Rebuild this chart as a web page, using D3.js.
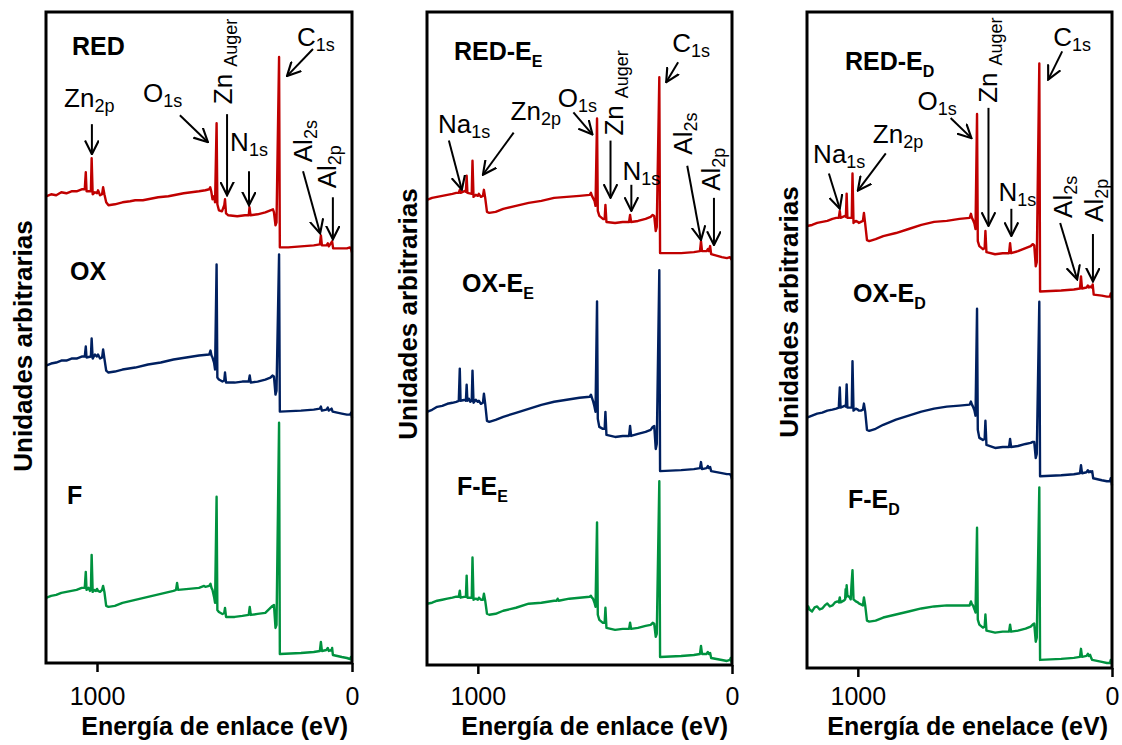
<!DOCTYPE html>
<html>
<head>
<meta charset="utf-8">
<script src="https://cdn.jsdelivr.net/npm/d3@7"></script>
<style>
  body { margin: 0; background: #fff; }
  svg { display: block; }
  text { font-family: "Liberation Sans", Arial, sans-serif; fill: #000; }
</style>
</head>
<body>
<div id="chart"></div>
<script>
// XPS survey spectra: [binding energy (eV), counts (a.u.)]
var redA = [[1200,466],[1180,468],[1160,467],[1140,470],[1120,469],[1100,471],[1080,471],[1060,473],[1048,473],[1044,490],[1041,471],[1024,471],[1021,504],[1017,468],[1008,470],[1000,469],[996,472],[988,467],[980,468],[976,475],[971,468],[964,460],[955,457],[930,458],[900,460],[870,461],[850,462],[820,462],[800,463],[760,465],[720,466],[700,467],[660,469],[630,470],[600,471],[575,472],[560,473],[556,475],[552,471],[547,463],[541,466],[537,460],[531,539],[528,458],[522,452],[510,451],[501,457],[498,463],[494,449],[485,447],[450,446],[420,447],[405,447],[402,455],[398,447],[370,448],[340,450],[320,452],[310,453],[306,450],[300,437],[296,440],[286,605],[283,415],[250,415],[200,416],[150,417],[126,418],[122,427],[118,417],[100,417],[95,419],[91,416],[78,421],[74,414],[40,414],[20,414],[8,415],[3,413],[0,410]];
var oxA = [[1200,297],[1180,299],[1160,300],[1140,302],[1120,302],[1100,304],[1080,304],[1060,306],[1048,306],[1044,316],[1041,305],[1024,306],[1021,324],[1017,304],[1008,308],[1000,306],[996,308],[988,304],[980,305],[976,313],[971,304],[964,292],[955,290],[930,291],[900,293],[850,295],[800,298],[750,300],[700,303],[650,305],[600,307],[560,308],[555,312],[551,307],[547,305],[541,300],[537,293],[531,398],[528,285],[522,283],[508,281],[501,282],[498,290],[494,280],[460,280],[430,281],[405,281],[401,287],[397,280],[370,281],[340,283],[320,285],[312,287],[306,286],[300,268],[296,272],[286,408],[283,251],[200,252],[150,253],[126,254],[122,256],[118,252],[100,253],[95,255],[91,252],[80,254],[76,251],[40,249],[20,248],[8,248],[3,250],[0,245]];
var fA = [[1200,65],[1180,67],[1160,68],[1140,70],[1120,71],[1100,72],[1080,73],[1060,75],[1048,75],[1044,91],[1041,73],[1033,75],[1028,72],[1024,73],[1021,108],[1017,71],[1010,73],[1004,72],[1000,74],[996,72],[988,71],[980,73],[976,77],[971,71],[964,57],[955,56],[930,57],[900,60],[850,63],[800,66],[750,69],[700,72],[690,73],[686,80],[682,73],[640,74],[600,75],[580,77],[575,76],[560,77],[555,79],[551,75],[547,73],[541,66],[537,60],[531,166],[528,53],[522,51],[508,49],[501,50],[498,55],[494,46],[460,46],[430,47],[405,48],[401,56],[397,48],[370,49],[340,50],[320,55],[312,57],[306,58],[300,35],[296,38],[286,240],[283,9],[200,10],[150,11],[126,12],[122,21],[118,12],[100,13],[95,15],[91,12],[80,13],[78,15],[75,8],[40,6],[20,5],[8,4],[4,6],[2,5],[0,2]];

var redB = [[1200,463],[1180,465],[1160,466],[1140,467],[1120,468],[1100,469],[1085,470],[1075,470],[1071,473],[1068,470],[1050,472],[1047,471],[1044,487],[1041,470],[1024,469],[1021,502],[1017,466],[1008,468],[1000,467],[996,469],[988,466],[980,467],[976,473],[971,465],[964,451],[955,450],[930,451],[900,454],[850,457],[800,460],[750,462],[700,465],[650,466],[600,467],[560,468],[555,470],[551,467],[547,465],[541,462],[537,457],[531,544],[528,452],[522,447],[508,444],[501,444],[498,458],[494,441],[460,440],[430,441],[405,441],[401,448],[397,441],[370,442],[340,444],[320,446],[312,448],[306,447],[300,432],[296,436],[286,585],[283,410],[200,410],[150,411],[126,412],[122,422],[118,412],[100,412],[95,414],[91,412],[86,417],[82,409],[40,406],[20,405],[8,406],[3,404],[0,403]];
var oxB = [[1200,252],[1180,254],[1160,257],[1140,258],[1120,260],[1100,261],[1085,262],[1075,263],[1071,295],[1068,263],[1050,264],[1047,263],[1044,279],[1041,263],[1035,265],[1030,262],[1024,263],[1021,293],[1017,261],[1008,264],[1000,262],[996,263],[988,260],[980,261],[976,270],[971,260],[964,243],[955,242],[930,244],[900,247],[850,251],[800,255],[750,259],[700,262],[650,264],[600,266],[560,267],[555,269],[551,266],[547,263],[541,257],[537,252],[531,362],[528,245],[522,237],[508,235],[501,235],[498,252],[494,229],[460,227],[430,228],[405,228],[401,238],[397,228],[370,230],[340,232],[320,234],[312,237],[306,238],[300,215],[296,220],[286,393],[283,193],[200,194],[150,195],[126,196],[122,202],[118,195],[100,196],[95,198],[91,196],[86,197],[82,193],[40,191],[20,190],[8,190],[3,188],[0,185]];
var fB = [[1200,61],[1180,62],[1160,64],[1140,65],[1120,66],[1100,67],[1085,68],[1075,68],[1071,74],[1068,67],[1050,68],[1047,68],[1044,89],[1041,67],[1024,67],[1021,107],[1017,65],[1008,66],[1000,65],[996,67],[988,65],[980,65],[976,71],[971,64],[964,51],[955,50],[930,51],[900,54],[850,57],[800,61],[750,62],[700,64],[690,64],[686,66],[682,64],[640,66],[600,67],[560,68],[555,69],[551,67],[547,66],[541,62],[537,58],[531,142],[528,50],[522,45],[508,42],[501,42],[498,57],[494,37],[460,35],[430,36],[405,36],[401,42],[397,36],[370,37],[340,39],[320,40],[312,42],[306,41],[300,28],[296,31],[286,183],[283,8],[200,9],[150,10],[126,11],[122,19],[118,11],[100,11],[95,13],[91,11],[86,12],[82,7],[40,5],[20,4],[8,5],[5,7],[2,3],[0,2]];

var redC = [[1200,438],[1180,439],[1160,441],[1140,442],[1120,443],[1100,445],[1085,446],[1075,446],[1071,453],[1068,446],[1050,448],[1047,447],[1044,470],[1041,446],[1024,446],[1021,490],[1017,441],[1008,443],[1000,442],[996,441],[988,442],[980,443],[976,451],[971,440],[964,424],[955,423],[930,425],[900,428],[850,431],[800,435],[750,439],[700,442],[650,443],[600,445],[560,446],[555,450],[551,446],[547,444],[541,440],[537,435],[531,549],[528,423],[522,418],[508,415],[501,416],[498,433],[494,412],[460,410],[430,411],[405,411],[401,421],[397,411],[370,413],[340,416],[320,418],[312,420],[306,419],[300,398],[296,402],[286,599],[283,373],[200,374],[150,375],[126,376],[122,388],[118,376],[100,377],[95,379],[91,377],[86,378],[80,377],[76,380],[72,370],[40,369],[20,368],[8,368],[5,371],[2,368],[0,365]];
var oxC = [[1200,248],[1180,250],[1160,252],[1140,253],[1120,255],[1100,256],[1085,257],[1075,258],[1071,278],[1068,258],[1050,260],[1047,259],[1044,281],[1041,258],[1024,258],[1021,304],[1017,255],[1008,257],[1000,256],[996,255],[988,255],[980,256],[976,262],[971,254],[964,236],[955,235],[930,237],[900,241],[850,246],[800,250],[750,254],[700,257],[650,259],[600,260],[560,261],[555,264],[551,261],[547,259],[541,255],[537,250],[531,356],[528,236],[522,228],[508,226],[501,227],[498,245],[494,221],[460,218],[430,219],[405,219],[401,227],[397,219],[370,220],[340,222],[320,223],[312,224],[306,224],[300,208],[296,212],[286,363],[283,190],[200,191],[150,192],[126,193],[122,201],[118,193],[100,194],[95,196],[91,194],[86,195],[82,194],[78,195],[74,188],[40,186],[20,185],[8,185],[5,188],[2,185],[0,181]];
var fC = [[1200,57],[1195,61],[1190,58],[1180,56],[1170,60],[1160,61],[1150,58],[1140,59],[1130,62],[1120,64],[1110,61],[1100,62],[1090,65],[1080,66],[1075,65],[1071,70],[1068,65],[1054,67],[1050,68],[1048,78],[1046,70],[1044,82],[1041,72],[1032,70],[1028,68],[1025,82],[1021,97],[1017,68],[1008,66],[1000,65],[996,64],[988,63],[980,62],[976,70],[971,62],[964,47],[955,46],[930,47],[900,50],[850,53],[800,56],[750,59],[700,61],[650,62],[600,62],[560,62],[555,66],[551,63],[547,62],[541,58],[537,55],[531,139],[528,48],[522,43],[508,40],[501,41],[498,53],[494,37],[460,35],[430,36],[405,36],[401,43],[397,36],[370,37],[340,39],[320,41],[312,43],[306,44],[300,26],[296,30],[286,179],[283,8],[200,9],[150,10],[126,11],[122,19],[118,11],[100,12],[95,14],[91,12],[86,13],[82,10],[78,8],[40,6],[20,5],[8,5],[5,8],[2,5],[0,4]];

var sampleNames = [["RED", "OX", "F"], ["RED-E", "OX-E", "F-E"], ["RED-E", "OX-E", "F-E"]];
var sampleSubs = ["", "E", "D"];
var xTicks = [1000, 0];
var xTitles = ["Energía de enlace (eV)", "Energía de enlace (eV)", "Energía de enelace (eV)"];
var yTitle = "Unidades arbitrarias";
var traceColors = ["#C00000", "#002060", "#00923F"];

// peak annotations: label anchor and arrow ends in [eV, counts]
var peaksA = [
  {t: "Zn", s: "2p", at: [1129, 555], a: [[1020, 538], [1020, 508]]},
  {t: "O", s: "1s", at: [820, 560], a: [[675, 547], [565, 520]]},
  {t: "Zn", s: "Auger", at: [471, 558], rot: true, a: [[490, 548], [490, 467]]},
  {t: "N", s: "1s", at: [478, 511], a: [[404, 491], [404, 457]]},
  {t: "C", s: "1s", at: [216, 616], a: [[153, 613], [255, 586]]},
  {t: "Al", s: "2s", at: [157, 500], rot: true, a: [[192, 491], [125, 429]]},
  {t: "Al", s: "2p", at: [63, 474], rot: true, a: [[75, 465], [75, 423]]}
];
var peaksB = [
  {t: "Na", s: "1s", at: [1157, 530], a: [[1114, 522], [1063, 473]]},
  {t: "Zn", s: "2p", at: [871, 542], a: [[859, 530], [980, 488]]},
  {t: "O", s: "1s", at: [686, 555], a: [[624, 550], [549, 528]]},
  {t: "Zn", s: "Auger", at: [427, 527], rot: true, a: [[478, 522], [478, 465]]},
  {t: "N", s: "1s", at: [431, 483], a: [[396, 478], [396, 452]]},
  {t: "C", s: "1s", at: [235, 610], a: [[212, 600], [259, 580]]},
  {t: "Al", s: "2s", at: [157, 508], rot: true, a: [[176, 497], [122, 423]]},
  {t: "Al", s: "2p", at: [47, 472], rot: true, a: [[71, 465], [71, 418]]}
];
var peaksC = [
  {t: "Na", s: "1s", at: [1176, 500], a: [[1114, 490], [1071, 455]]},
  {t: "Zn", s: "2p", at: [941, 520], a: [[890, 510], [1000, 473]]},
  {t: "O", s: "1s", at: [765, 553], a: [[635, 545], [553, 525]]},
  {t: "Zn", s: "Auger", at: [451, 560], rot: true, a: [[486, 555], [486, 438]]},
  {t: "N", s: "1s", at: [447, 463], a: [[396, 455], [396, 428]]},
  {t: "C", s: "1s", at: [231, 616], a: [[196, 611], [251, 583]]},
  {t: "Al", s: "2s", at: [157, 446], rot: true, a: [[204, 441], [137, 385]]},
  {t: "Al", s: "2p", at: [35, 442], rot: true, a: [[75, 430], [75, 383]]}
];

var spectra = [[redA, oxA, fA], [redB, oxB, fB], [redC, oxC, fC]];
var peaks = [peaksA, peaksB, peaksC];

// layout
var W = 1122, H = 745;
var pLeft = [46, 427, 807], pTop = 12, pW = [306, 305, 305], pH = [651, 653, 656];
var samplePos = [[[26, 43], [24, 268], [21, 492]], [[27, 48], [35, 280], [30, 483]], [[38, 58], [46, 290], [41, 496]]];
var yTitlePos = [[-14, 334], [-10, 302], [-9, 300]];

var svg = d3.select("#chart").append("svg")
  .attr("width", W)
  .attr("height", H);

var marker = svg.append("defs").append("marker")
  .attr("id", "arrow")
  .attr("viewBox", "0 0 12 12")
  .attr("refX", 11)
  .attr("refY", 6)
  .attr("markerWidth", 15)
  .attr("markerHeight", 15)
  .attr("markerUnits", "userSpaceOnUse")
  .attr("orient", "auto");
marker.append("path")
  .attr("d", "M0,0.5L11,6L0,11.5")
  .attr("fill", "none")
  .attr("stroke", "#000")
  .attr("stroke-width", 1.7);

spectra.forEach(function(set, p){

  var w = pW[p], h = pH[p];
  var g = svg.append("g")
    .attr("class", "panel")
    .attr("transform", "translate(" + pLeft[p] + "," + pTop + ")");

  var x = d3.scaleLinear().domain([1200, 0]).range([0, w]);
  var y = d3.scaleLinear().domain([0, 650]).range([h, 0]);

  var line = d3.line()
    .x(function(d){ return x(d[0]); })
    .y(function(d){ return y(d[1]); });

  // spectra, bottom trace first
  set.slice().reverse().forEach(function(series, i){
    g.append("path")
      .datum(series)
      .attr("d", line)
      .attr("fill", "none")
      .attr("stroke", traceColors[2 - i])
      .attr("stroke-width", 2.4)
      .attr("stroke-linejoin", "round");
  });

  // frame
  g.append("rect")
    .attr("width", w)
    .attr("height", h)
    .attr("fill", "none")
    .attr("stroke", "#000")
    .attr("stroke-width", 3);

  // x axis
  var ax = g.append("g")
    .attr("transform", "translate(0," + h + ")")
    .call(d3.axisBottom(x).tickValues(xTicks).tickSize(9).tickFormat(d3.format("d")));
  ax.select(".domain").remove();
  ax.selectAll(".tick line").attr("stroke", "#000").attr("stroke-width", 2.5);
  ax.selectAll(".tick text")
    .attr("y", 705 - pTop - h)
    .attr("dy", null)
    .attr("font-size", 25)
    .attr("font-family", '"Liberation Sans", Arial, sans-serif')
    .attr("fill", "#000");

  g.append("text")
    .attr("x", w - 4)
    .attr("y", 735 - pTop)
    .attr("text-anchor", "end")
    .attr("font-size", 25)
    .attr("font-weight", "bold")
    .text(xTitles[p]);

  g.append("text")
    .attr("transform", "translate(" + yTitlePos[p][0] + "," + yTitlePos[p][1] + ") rotate(-90)")
    .attr("text-anchor", "middle")
    .attr("font-size", 26)
    .attr("font-weight", "bold")
    .text(yTitle);

  // sample names
  sampleNames[p].forEach(function(name, i){
    var t = g.append("text")
      .attr("x", samplePos[p][i][0])
      .attr("y", samplePos[p][i][1])
      .attr("font-size", 25)
      .attr("font-weight", "bold")
      .text(name);
    if (sampleSubs[p]) {
      t.append("tspan")
        .attr("dy", 7)
        .attr("font-size", 16)
        .text(sampleSubs[p]);
    }
  });

  // peak labels and arrows
  peaks[p].forEach(function(d){
    g.append("line")
      .attr("x1", x(d.a[0][0]))
      .attr("y1", y(d.a[0][1]))
      .attr("x2", x(d.a[1][0]))
      .attr("y2", y(d.a[1][1]))
      .attr("stroke", "#000")
      .attr("stroke-width", 2)
      .attr("marker-end", "url(#arrow)");

    var t = g.append("text")
      .attr("font-size", 26)
      .attr("transform", "translate(" + x(d.at[0]) + "," + y(d.at[1]) + ")" + (d.rot ? " rotate(-90)" : ""))
      .text(d.t);
    t.append("tspan")
      .attr("dx", d.s === "Auger" ? 7 : 0)
      .attr("dy", 5)
      .attr("font-size", 18)
      .text(d.s);
  });

});
</script>
</body>
</html>
